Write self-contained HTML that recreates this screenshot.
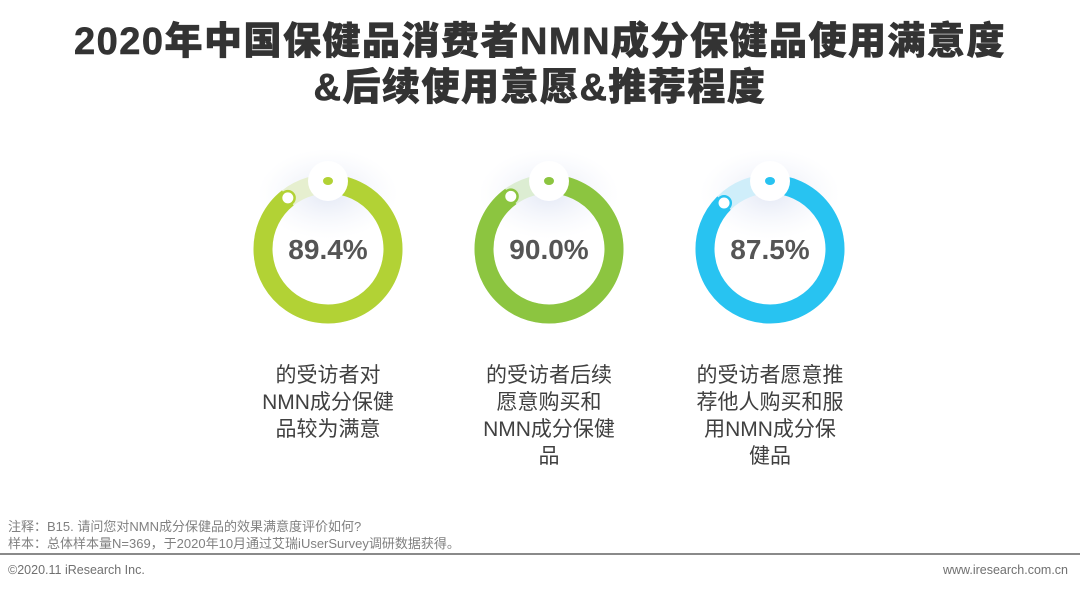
<!DOCTYPE html>
<html><head><meta charset="utf-8"><style>
body{margin:0;width:1080px;height:590px;background:#fff;overflow:hidden;position:relative;font-family:"Liberation Sans","Noto Sans CJK SC",sans-serif;}
.t{position:absolute;left:0;width:1080px;text-align:center;font-weight:900;font-size:38px;letter-spacing:1.5px;color:#333;line-height:46px;-webkit-text-stroke:0.6px #333;}
.lbl{position:absolute;width:180px;text-align:center;font-size:21px;line-height:27px;color:#404040;}
.note{position:absolute;left:8px;font-size:13px;color:#808080;line-height:17px;}
.foot{position:absolute;top:563px;font-size:12.5px;color:#707070;}
</style></head><body>
<div class="t" style="top:19px">2020年中国保健品消费者NMN成分保健品使用满意度</div>
<div class="t" style="top:65px">&amp;后续使用意愿&amp;推荐程度</div>
<svg id="chart" width="1080" height="590" style="position:absolute;left:0;top:0">
<defs><radialGradient id="sh"><stop offset="0" stop-color="#dde3f3" stop-opacity="0.8"/><stop offset="1" stop-color="#eef1fa" stop-opacity="0"/></radialGradient></defs>
</svg>
<div class="lbl" style="left:238px;top:362px">的受访者对<br>NMN成分保健<br>品较为满意</div>
<div class="lbl" style="left:459px;top:362px">的受访者后续<br>愿意购买和<br>NMN成分保健<br>品</div>
<div class="lbl" style="left:680px;top:362px">的受访者愿意推<br>荐他人购买和服<br>用NMN成分保<br>健品</div>
<div class="note" style="top:518px">注释：B15. 请问您对NMN成分保健品的效果满意度评价如何?</div>
<div class="note" style="top:535px">样本：总体样本量N=369，于2020年10月通过艾瑞iUserSurvey调研数据获得。</div>
<div style="position:absolute;left:0;top:553px;width:1080px;height:2px;background:#8a8a8a"></div>
<div class="foot" style="left:8px">©2020.11 iResearch Inc.</div>
<div class="foot" style="right:12px">www.iresearch.com.cn</div>
<script>
const categories=['satisfied','continue','recommend'];
const values=[89.4,90.0,87.5];
const valueLabels=['89.4%','90.0%','87.5%'];
const colors=['#b2d235','#8cc540','#28c3f1'];
const lightColors=['#e6efcf','#dcedd2','#cfeefa'];
const NS='http://www.w3.org/2000/svg';
const svg=document.getElementById('chart');
const cx0=328,dx=221,cy=249,r=65,w=19;
function mk(t,a){const e=document.createElementNS(NS,t);for(const k in a)e.setAttribute(k,a[k]);svg.appendChild(e);return e;}
function pt(cx,frac,rr){const a=frac*2*Math.PI-Math.PI/2;return [cx+rr*Math.cos(a),cy+rr*Math.sin(a)];}
values.forEach((v,i)=>{
 const cx=cx0+dx*i,f=v/100;
 const sh=mk('ellipse',{cx:cx,cy:cy-55,rx:70,ry:45,fill:'url(#sh)'});
 
 
 const bg=mk('circle',{cx:cx,cy:cy,r:r,fill:'none',stroke:lightColors[i],'stroke-width':w});
 
 
 const [x1,y1]=pt(cx,0,r),[x2,y2]=pt(cx,f,r);
 const arc=mk('path',{d:`M${x1},${y1} A${r},${r} 0 ${f>0.5?1:0} 1 ${x2},${y2}`,fill:'none',stroke:colors[i],'stroke-width':w});
 
 
 const top=mk('circle',{cx:cx,cy:cy-r-3,r:20,fill:'#fff'});
 
 
 const td=mk('ellipse',{cx:cx,cy:cy-r-3,rx:5,ry:4,fill:colors[i]});
 
 
 const [ex,ey]=pt(cx,f,r);
 const em=mk('circle',{cx:ex,cy:ey,r:8,fill:colors[i]});
 
 
 const ed=mk('circle',{cx:ex,cy:ey,r:5.5,fill:'#fff'});
 
 
 const tx=mk('text',{x:cx,y:cy+10,'text-anchor':'middle','font-size':28,'font-weight':'bold',fill:'#555','font-family':'Liberation Sans, sans-serif'});
 tx.textContent=valueLabels[i];
 
 
});
</script>
</body></html>
